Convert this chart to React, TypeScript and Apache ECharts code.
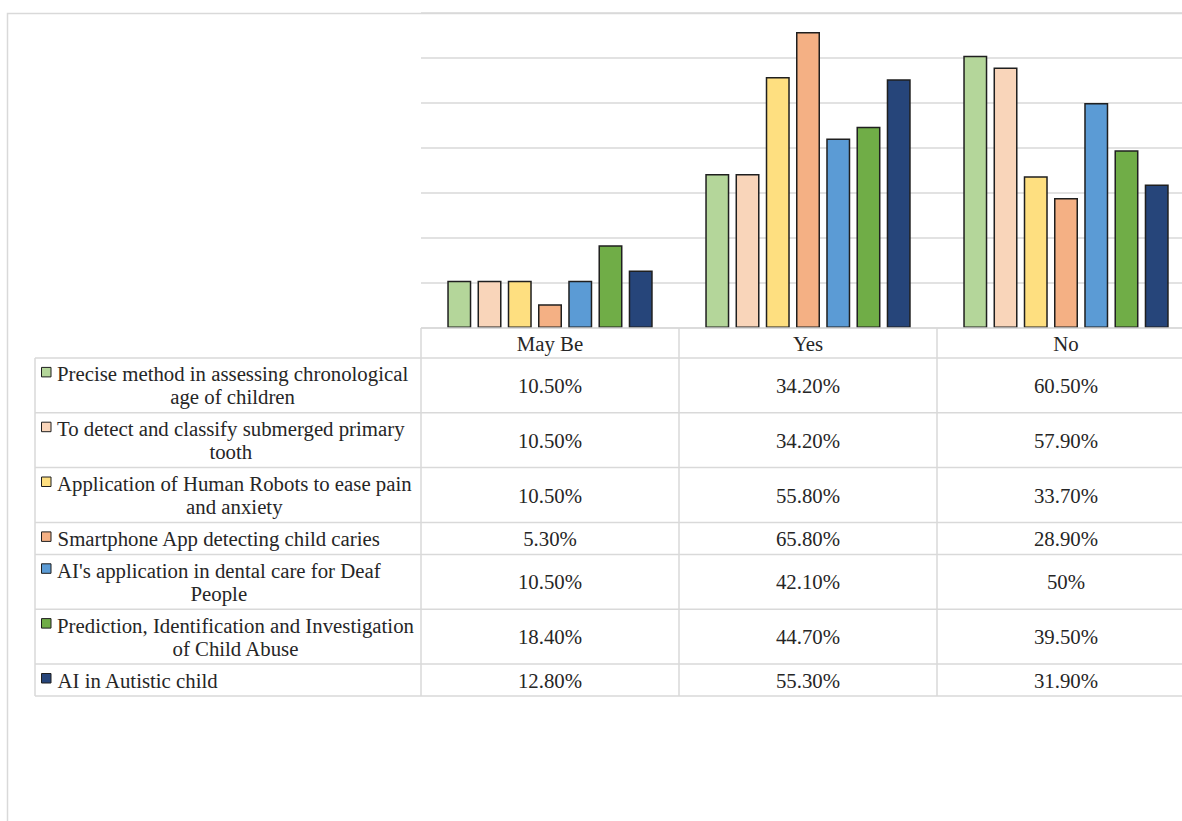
import React, { useEffect, useRef } from "react";
import * as echarts from "echarts";

const categories = ["May Be", "Yes", "No"];
const itemNames = [
  "Precise method in assessing chronological\nage of children",
  "To detect and classify submerged primary\ntooth",
  "Application of Human Robots to ease pain\nand anxiety",
  "Smartphone App detecting child caries",
  "AI's application in dental care for Deaf\nPeople",
  "Prediction, Identification and Investigation\nof Child Abuse",
  "AI in Autistic child",
];
const maybeValues = [10.5, 10.5, 10.5, 5.3, 10.5, 18.4, 12.8];
const yesValues = [34.2, 34.2, 55.8, 65.8, 42.1, 44.7, 55.3];
const noValues = [60.5, 57.9, 33.7, 28.9, 50, 39.5, 31.9];
const colors = ["#B4D69A", "#F9D5BA", "#FEDF80", "#F4B084", "#5B9BD5", "#70AD47", "#26457A"];

const FONT = "'Liberation Serif', 'Times New Roman', serif";
const FS = 20.8;
const TEXT = "#262626";
const LINE = "#d9d9d9";

const GRID_LEFT = 421;
const BAND = 258;
const GRID_TOP = 13;
const GRID_H = 315;
const TABLE_LEFT = 35;
const HEADER_TOP = GRID_TOP + GRID_H;
const HEADER_H = 30;

function fmt(v: number) {
  return Number.isInteger(v) ? `${v}%` : `${v.toFixed(2)}%`;
}

export default function App() {
  const ref = useRef<HTMLDivElement>(null);
  useEffect(() => {
    if (!ref.current) return;
    const chart = echarts.init(ref.current, null, { renderer: "svg" });
    const canvas = document.createElement("canvas");
    const ctx = canvas.getContext("2d")!;
    ctx.font = `${FS}px 'Liberation Serif'`;

    const right = 1300;
    const graphic: any[] = [];
    graphic.push({
      type: "rect",
      shape: { x: 7.5, y: 13.5, width: 1400, height: 1000 },
      style: { fill: "none", stroke: LINE, lineWidth: 1.5 },
      silent: true,
    });
    const line = (x1: number, y1: number, x2: number, y2: number) =>
      graphic.push({
        type: "line",
        shape: { x1, y1, x2, y2 },
        style: { stroke: LINE, lineWidth: 1.5 },
        silent: true,
        z: 10,
      });

    const rowTops: number[] = [];
    let y = HEADER_TOP + HEADER_H;
    itemNames.forEach((n) => {
      rowTops.push(y);
      y += n.includes("\n") ? 54.8 : 32;
    });
    const tableBottom = y;

    line(GRID_LEFT, HEADER_TOP, right, HEADER_TOP);
    line(TABLE_LEFT, HEADER_TOP + HEADER_H, right, HEADER_TOP + HEADER_H);
    rowTops.slice(1).forEach((t) => line(TABLE_LEFT, t, right, t));
    line(TABLE_LEFT, tableBottom, right, tableBottom);
    line(TABLE_LEFT, HEADER_TOP + HEADER_H, TABLE_LEFT, tableBottom);
    for (let c = 0; c <= categories.length; c++) {
      line(GRID_LEFT + c * BAND, HEADER_TOP, GRID_LEFT + c * BAND, tableBottom);
    }

    const txt = (text: string, x: number, yy: number, align: string) => ({
      type: "text",
      x,
      y: yy,
      z: 20,
      silent: true,
      style: {
        text,
        fontSize: FS,
        fontFamily: FONT,
        fill: TEXT,
        align,
        textAlign: align,
        verticalAlign: "middle",
        textVerticalAlign: "middle",
        lineHeight: 23,
      },
    });

    categories.forEach((c, i) => {
      graphic.push(txt(c, GRID_LEFT + (i + 0.5) * BAND, HEADER_TOP + HEADER_H / 2, "center"));
    });

    const allVals = [maybeValues, yesValues, noValues];
    itemNames.forEach((n, r) => {
      const lines = n.split("\n");
      const h = lines.length > 1 ? 54.8 : 32;
      const cy = rowTops[r] + h / 2;
      const maxW = Math.max(...lines.map((l) => ctx.measureText(l).width));
      const x0 = 57;
      graphic.push(txt(n, x0 + maxW / 2, cy, "center"));
      const line1c = cy - ((lines.length - 1) * 23) / 2;
      graphic.push({
        type: "rect",
        shape: { x: 41.5, y: line1c - 6.5, width: 9.5, height: 9.5 },
        style: { fill: colors[r], stroke: "#1f1f1f", lineWidth: 1 },
        silent: true,
        z: 20,
      });
      allVals.forEach((vals, c) => {
        graphic.push(txt(fmt(vals[r]), GRID_LEFT + (c + 0.5) * BAND, cy, "center"));
      });
    });

    chart.setOption({
      animation: false,
      grid: { left: GRID_LEFT, top: GRID_TOP, width: BAND * categories.length, height: GRID_H },
      xAxis: {
        type: "category",
        data: categories,
        axisLine: { show: false },
        axisTick: { show: false },
        axisLabel: { show: false },
      },
      yAxis: {
        type: "value",
        min: 0,
        max: 70,
        interval: 10,
        axisLabel: { show: false },
        axisLine: { show: false },
        axisTick: { show: false },
        splitLine: { lineStyle: { color: LINE, width: 1.5 } },
      },
      series: itemNames.map((n, i) => ({
        type: "bar",
        name: n,
        data: [maybeValues[i], yesValues[i], noValues[i]],
        barWidth: 24,
        barGap: "26%",
        itemStyle: { color: colors[i], borderColor: "#1f1f1f", borderWidth: 1.5 },
      })),
      graphic,
    });
    return () => chart.dispose();
  }, []);
  return (
    <div
      style={{
        position: "fixed",
        left: 0,
        top: 0,
        width: 1182,
        height: 821,
        overflow: "hidden",
        background: "#fff",
      }}
    >
      <div ref={ref} style={{ width: 1200, height: 821 }} />
    </div>
  );
}
